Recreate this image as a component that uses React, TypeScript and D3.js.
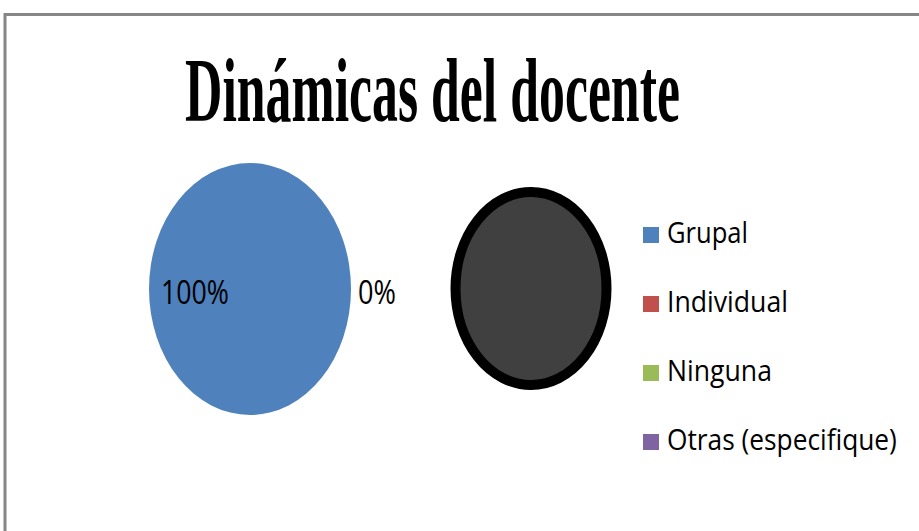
import React, { useEffect, useRef } from "react";
import * as d3 from "d3";

const categories = ["Grupal", "Individual", "Ninguna", "Otras (especifique)"];
const values = [100, 0, 0, 0];
const colors = ["#4F81BD", "#C0504D", "#9BBB59", "#8064A2"];
const title = "Dinámicas del docente";

// measured widths of the squeezed text in the picture
const legendWidths = [81, 121, 105, 230];

const W = 919;
const H = 531;

// squeeze a text horizontally to a given width (the original is stretched vertically)
const fit = (
  sel: d3.Selection<SVGTextElement, any, any, any>,
  x: number,
  y: number,
  width: number
) => {
  const node = sel.node();
  if (!node) return;
  const w = node.getComputedTextLength() || width;
  sel.attr("x", 0).attr("y", 0).attr("transform", `translate(${x},${y}) scale(${width / w},1)`);
};

const App: React.FC = () => {
  const ref = useRef<SVGSVGElement | null>(null);

  useEffect(() => {
    if (!ref.current) return;
    const svg = d3.select(ref.current);
    svg.selectAll("*").remove();

    // frame of the chart area (cut at right and bottom)
    svg
      .append("rect")
      .attr("x", 5)
      .attr("y", 14.5)
      .attr("width", W + 20)
      .attr("height", H + 20)
      .attr("fill", "#fff")
      .attr("stroke", "#868686")
      .attr("stroke-width", 3);

    // title
    const t = svg
      .append("text")
      .attr("font-family", "Liberation Serif, serif")
      .attr("font-weight", "bold")
      .attr("font-size", 91)
      .attr("fill", "#000")
      .text(title);
    fit(t, 185, 121, 495);

    // pie (stretched vertically into an ellipse)
    const cx = 250;
    const cy = 289;
    const rx = 101;
    const ry = 126;
    const total = d3.sum(values);
    const pie = d3
      .pie<number>()
      .sort(null)
      .value((d) => d);
    const arcs = pie(values);
    const arc = d3.arc<d3.PieArcDatum<number>>().innerRadius(0).outerRadius(rx);

    const g = svg
      .append("g")
      .attr("transform", `translate(${cx},${cy}) scale(1,${ry / rx})`);
    g.selectAll("path")
      .data(arcs.filter((a) => a.value > 0))
      .join("path")
      .attr("d", arc)
      .attr("fill", (d) => colors[d.index]);

    // data labels
    const fmt = (v: number) => `${Math.round((v / total) * 100)}%`;
    const labels = [
      { text: fmt(values[0]), x: 161, w: 68 },
      { text: fmt(values[1]), x: 358, w: 38 },
    ];
    labels.forEach((l) => {
      const s = svg
        .append("text")
        .attr("font-family", "Open Sans, sans-serif")
        .attr("font-size", 33)
        .attr("fill", "#000")
        .text(l.text);
      fit(s, l.x, 304, l.w);
    });

    // zero-value slices rendered as a dark ellipse
    svg
      .append("ellipse")
      .attr("cx", 531)
      .attr("cy", 288.5)
      .attr("rx", 75.5)
      .attr("ry", 96.5)
      .attr("fill", "#404040")
      .attr("stroke", "#000")
      .attr("stroke-width", 10);

    // legend
    const ly = d3
      .scalePoint<string>()
      .domain(categories)
      .range([243, 450]);
    categories.forEach((c, i) => {
      const y = ly(c) ?? 0;
      svg
        .append("rect")
        .attr("x", 643)
        .attr("y", y - 16)
        .attr("width", 16)
        .attr("height", 16)
        .attr("fill", colors[i]);
      const s = svg
        .append("text")
        .attr("font-family", "Open Sans, sans-serif")
        .attr("font-size", 29)
        .attr("fill", "#000")
        .text(c);
      fit(s, 667, y, legendWidths[i]);
    });
  }, []);

  return (
    <svg
      ref={ref}
      width={W}
      height={H}
      style={{ position: "absolute", left: 0, top: 0, background: "#fff" }}
    />
  );
};

export default App;
